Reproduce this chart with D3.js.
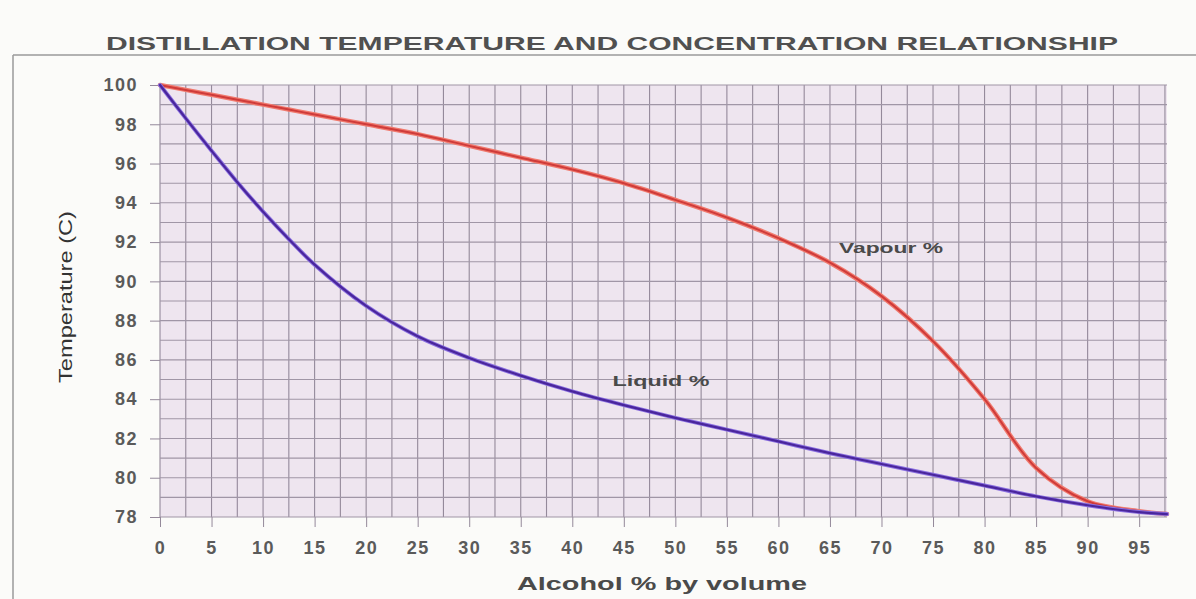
<!DOCTYPE html>
<html><head><meta charset="utf-8">
<script src="https://cdn.jsdelivr.net/npm/d3@7"></script>
<style>
body{margin:0;background:#fbfbf9;}
text{font-family:"Liberation Sans",Arial,sans-serif;}
</style></head>
<body>
<svg id="chart" width="1196" height="599"></svg>
<script>
const title = "DISTILLATION TEMPERATURE AND CONCENTRATION RELATIONSHIP";
const xLabel = "Alcohol % by volume";
const yLabel = "Temperature (C)";
const xTicks = [0,5,10,15,20,25,30,35,40,45,50,55,60,65,70,75,80,85,90,95];
const yTicks = [78,80,82,84,86,88,90,92,94,96,98,100];
const alcohol = [0,2.5,5,7.5,10,12.5,15,20,25,30,35,40,45,50,55,60,65,70,75,80,85,90,95,97.7];
const vapour = [100,99.75,99.5,99.25,99.0,98.75,98.5,98.0,97.5,96.9,96.3,95.7,95.0,94.15,93.25,92.2,90.95,89.25,86.95,84.0,80.5,78.8,78.3,78.15];
const liquid = [100,98.3,96.65,95.05,93.55,92.15,90.85,88.75,87.2,86.1,85.2,84.4,83.7,83.05,82.45,81.85,81.25,80.7,80.15,79.6,79.05,78.6,78.25,78.15];
const xMinor = d3.range(0, 98.01, 2.5);
const yMinor = d3.range(78, 100.01, 1);

const svg = d3.select("#chart");
const x = d3.scaleLinear().domain([0, 97.7]).range([160, 1167]);
const y = d3.scaleLinear().domain([78, 100]).range([517, 85]);

// frame
svg.append("line").attr("x1",13).attr("x2",1196).attr("y1",55).attr("y2",55).attr("stroke","#9a9a9a").attr("stroke-width",1.5);
svg.append("line").attr("x1",13).attr("x2",13).attr("y1",55).attr("y2",599).attr("stroke","#9a9a9a").attr("stroke-width",1.5);

// title
svg.append("text").attr("x",612).attr("y",50).attr("text-anchor","middle")
  .attr("font-size",18).attr("font-weight","bold").attr("fill","#505050")
  .attr("textLength",1012).attr("lengthAdjust","spacingAndGlyphs").text(title);

// plot background
svg.append("rect").attr("x",x(0)).attr("y",y(100)).attr("width",x(97.7)-x(0)).attr("height",y(78)-y(100)).attr("fill","#eee5ef");

// grid
const g = svg.append("g");
g.selectAll("line.v").data(xMinor.filter(d=>d<=97.7)).join("line")
  .attr("x1",d=>x(d)).attr("x2",d=>x(d)).attr("y1",y(100)).attr("y2",y(78))
  .attr("stroke","#94899a").attr("stroke-width",1.1);
g.selectAll("line.h").data(yMinor).join("line")
  .attr("x1",x(0)).attr("x2",x(97.7)).attr("y1",d=>y(d)).attr("y2",d=>y(d))
  .attr("stroke","#a096a6").attr("stroke-width",1.1);

// axes
const yAxis = d3.axisLeft(y).tickValues(yTicks).tickSize(10).tickPadding(12).tickFormat(d3.format("d"));
const ya = svg.append("g").attr("transform",`translate(${x(0)},0)`).call(yAxis);
ya.select(".domain").remove();
ya.selectAll(".tick line").attr("stroke","#94899a");
ya.selectAll(".tick text").attr("font-size",18).attr("font-weight","bold").attr("fill","#5a5a5a")
  .attr("letter-spacing",1.5).attr("font-family","Liberation Sans, Arial, sans-serif");

const xAxis = d3.axisBottom(x).tickValues(xTicks).tickSize(10).tickPadding(14).tickFormat(d3.format("d"));
const xa = svg.append("g").attr("transform",`translate(0,${y(78)})`).call(xAxis);
xa.select(".domain").remove();
xa.selectAll(".tick line").attr("stroke","#94899a");
xa.selectAll(".tick text").attr("font-size",18).attr("font-weight","bold").attr("fill","#5a5a5a")
  .attr("letter-spacing",1.5).attr("font-family","Liberation Sans, Arial, sans-serif");

// axis labels
svg.append("text").attr("transform","translate(72,297) rotate(-90)").attr("text-anchor","middle")
  .attr("font-size",18).attr("fill","#333").attr("textLength",172).attr("lengthAdjust","spacingAndGlyphs").text(yLabel);
svg.append("text").attr("x",662).attr("y",590).attr("text-anchor","middle")
  .attr("font-size",18).attr("font-weight","bold").attr("fill","#4a4a4a")
  .attr("textLength",290).attr("lengthAdjust","spacingAndGlyphs").text(xLabel);

// curves
const line = d3.line().x(d=>x(d[0])).y(d=>y(d[1])).curve(d3.curveCatmullRom.alpha(0.5));
const vData = alcohol.map((a,i)=>[a,vapour[i]]);
const lData = alcohol.map((a,i)=>[a,liquid[i]]);
svg.append("path").datum(vData).attr("d",line)
  .attr("fill","none").attr("stroke","#f07a6e").attr("stroke-width",4.5).attr("stroke-linecap","round");
svg.append("path").datum(vData).attr("d",line)
  .attr("fill","none").attr("stroke","#cf3b3a").attr("stroke-width",2).attr("stroke-linecap","round");
svg.append("path").datum(lData).attr("d",line)
  .attr("fill","none").attr("stroke","#8a6fe0").attr("stroke-width",4).attr("stroke-linecap","round");
svg.append("path").datum(lData).attr("d",line)
  .attr("fill","none").attr("stroke","#4a269c").attr("stroke-width",2.2).attr("stroke-linecap","round");

// series labels
svg.append("text").attr("x",891).attr("y",253).attr("text-anchor","middle")
  .attr("font-size",15).attr("font-weight","bold").attr("fill","#4a4a4a")
  .attr("textLength",104).attr("lengthAdjust","spacingAndGlyphs").text("Vapour %");
svg.append("text").attr("x",661).attr("y",386).attr("text-anchor","middle")
  .attr("font-size",15).attr("font-weight","bold").attr("fill","#4a4a4a")
  .attr("textLength",97).attr("lengthAdjust","spacingAndGlyphs").text("Liquid %");
</script>
</body></html>
